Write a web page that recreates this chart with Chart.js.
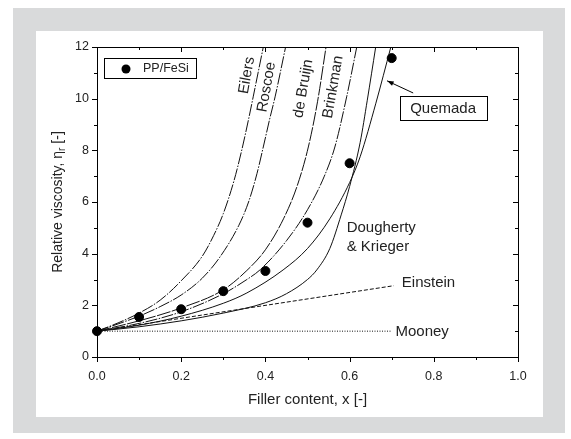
<!DOCTYPE html>
<html>
<head>
<meta charset="utf-8">
<title>Relative viscosity</title>
<script src="https://cdn.jsdelivr.net/npm/chart.js@4.4.1/dist/chart.umd.min.js"></script>
<style>
    html, body { margin: 0; padding: 0; background: #fff; }
    #wrap { position: absolute; left: 0; top: 0; width: 571px; height: 439px; }
</style>
</head>
<body>
<div id="wrap"><canvas id="chartVisc" width="571" height="439"></canvas></div>
<script>
// ============== DATA ==============

// measured points PP/FeSi
const fillerX = [0.0, 0.1, 0.2, 0.3, 0.4, 0.5, 0.6, 0.7];
const viscY   = [1.0, 1.55, 1.85, 2.55, 3.33, 5.2, 7.5, 11.57];

// model curves
const eilersX = [0, 0.05, 0.1, 0.15, 0.2, 0.25, 0.277, 0.3, 0.325, 0.343, 0.36, 0.371, 0.395];
const eilersY = [1, 1.32, 1.7, 2.2, 2.95, 3.9, 4.7, 5.55, 6.8, 7.95, 9.2, 10.07, 12];

const roscoeX = [0, 0.05, 0.1, 0.15, 0.2, 0.25, 0.292, 0.337, 0.36, 0.38, 0.395, 0.41, 0.423, 0.448];
const roscoeY = [1, 1.28, 1.58, 1.95, 2.4, 3.05, 3.87, 5.1, 6.0, 7.1, 8.13, 9.2, 10.07, 12];

const bruijnX = [0, 0.1, 0.2, 0.3, 0.356, 0.4, 0.443, 0.475, 0.502, 0.524, 0.544];
const bruijnY = [1, 1.4, 1.9, 2.6, 3.35, 4.15, 5.35, 6.6, 8.13, 9.9, 12];

const brinkX = [0, 0.1, 0.2, 0.3, 0.356, 0.387, 0.45, 0.5, 0.54, 0.565, 0.593, 0.617];
const brinkY = [1, 1.3, 1.75, 2.45, 3.0, 3.37, 4.5, 5.7, 7.0, 8.13, 10.07, 12];

const dkX = [0, 0.1, 0.2, 0.3, 0.4, 0.45, 0.5, 0.522, 0.553, 0.58, 0.6, 0.625, 0.642, 0.662];
const dkY = [1, 1.17, 1.4, 1.7, 2.1, 2.45, 3.0, 3.37, 4.2, 5.5, 6.6, 8.3, 9.94, 12];

const quemX = [0, 0.1, 0.2, 0.3, 0.356, 0.442, 0.5, 0.553, 0.6, 0.625, 0.662, 0.698];
const quemY = [1, 1.23, 1.58, 2.08, 2.48, 3.37, 4.2, 5.35, 6.75, 7.75, 9.8, 12];

const einsteinX = [0, 0.705];
const einsteinY = [1, 2.76];

const mooneyX = [0, 0.7];
const mooneyY = [1, 1];

// axis ticks
const xMajor = [0, 0.2, 0.4, 0.6, 0.8, 1.0];
const xMinor = [0.1, 0.3, 0.5, 0.7, 0.9];
const yMajor = [0, 2, 4, 6, 8, 10, 12];
const yMinor = [1, 3, 5, 7, 9, 11];

const FONT = "'Liberation Sans', Arial, sans-serif";
const INK = '#222';

function pairs(xs, ys) {
    return xs.map((x, i) => ({ x: x, y: ys[i] }));
}

function curve(label, xs, ys, dash) {
    return {
        label: label,
        data: pairs(xs, ys),
        showLine: true,
        borderColor: '#111',
        borderWidth: 1,
        borderDash: dash,
        pointRadius: 0,
        cubicInterpolationMode: 'monotone',
        fill: false
    };
}

// ============== PLUGIN: panel, frame, ticks, labels ==============

const decor = {
    id: 'decor',
    beforeDraw(chart) {
        const c = chart.ctx;
        c.save();
        c.fillStyle = '#fff';
        c.fillRect(0, 0, chart.width, chart.height);
        c.fillStyle = '#d9dadb';
        c.fillRect(13, 8, 552, 425);
        c.fillStyle = '#fff';
        c.fillRect(36, 31, 507, 386);
        c.restore();
    },
    afterDraw(chart) {
        const c = chart.ctx;
        const a = chart.chartArea;
        const sx = chart.scales.x;
        const sy = chart.scales.y;
        const px = v => sx.getPixelForValue(v);
        const py = v => sy.getPixelForValue(v);

        c.save();
        c.strokeStyle = '#000';
        c.lineWidth = 1;
        c.strokeRect(Math.round(a.left) + 0.5, Math.round(a.top) + 0.5,
            Math.round(a.right - a.left), Math.round(a.bottom - a.top));

        // tick marks: out on bottom/left, in on top/right
        c.beginPath();
        const tickX = (v, len) => {
            const x = Math.round(px(v)) + 0.5;
            c.moveTo(x, a.bottom); c.lineTo(x, a.bottom + len);
            c.moveTo(x, a.top); c.lineTo(x, a.top + len);
        };
        const tickY = (v, len) => {
            const y = Math.round(py(v)) + 0.5;
            c.moveTo(a.left, y); c.lineTo(a.left - len, y);
            c.moveTo(a.right, y); c.lineTo(a.right - len, y);
        };
        xMajor.forEach(v => tickX(v, 5));
        xMinor.forEach(v => tickX(v, 3));
        yMajor.forEach(v => tickY(v, 5));
        yMinor.forEach(v => tickY(v, 3));
        c.stroke();

        // y axis title with subscript
        c.fillStyle = INK;
        c.textBaseline = 'middle';
        c.textAlign = 'left';
        c.translate(58, (a.top + a.bottom) / 2);
        c.rotate(-Math.PI / 2);
        const t1 = 'Relative viscosity, \u03b7', t2 = 'r', t3 = ' [-]';
        c.font = '14px ' + FONT;
        const w1 = c.measureText(t1).width, w3 = c.measureText(t3).width;
        c.font = '10px ' + FONT;
        const w2 = c.measureText(t2).width;
        let x0 = -(w1 + w2 + w3) / 2;
        c.font = '14px ' + FONT;
        c.fillText(t1, x0, 0);
        c.font = '10px ' + FONT;
        c.fillText(t2, x0 + w1, 4);
        c.font = '14px ' + FONT;
        c.fillText(t3, x0 + w1 + w2, 0);
        c.setTransform(1, 0, 0, 1, 0, 0);

        // rotated curve names
        c.font = '15px ' + FONT;
        c.textAlign = 'center';
        const rot = [
            ['Eilers', 0.356, 10.9],
            ['Roscoe', 0.403, 10.45],
            ['de Bruijn', 0.490, 10.39],
            ['Brinkman', 0.561, 10.45]
        ];
        rot.forEach(r => {
            c.save();
            c.translate(px(r[1]), py(r[2]));
            c.rotate(-80 * Math.PI / 180);
            c.fillText(r[0], 0, 0);
            c.restore();
        });

        // plain curve names
        c.textAlign = 'left';
        [
            ['Dougherty', 0.593, 4.98],
            ['& Krieger', 0.593, 4.27],
            ['Einstein', 0.724, 2.88],
            ['Mooney', 0.709, 0.98]
        ].forEach(r => c.fillText(r[0], px(r[1]), py(r[2])));

        // Quemada box and arrow
        const qx = px(0.822), qy = py(9.62);
        c.strokeRect(Math.round(qx - 43.5) + 0.5, Math.round(qy - 12) + 0.5, 87, 24);
        c.textAlign = 'center';
        c.fillText('Quemada', qx, qy);
        const tx = px(0.689), ty = py(10.69), fx = px(0.751), fy = py(10.22);
        c.beginPath();
        c.moveTo(fx, fy); c.lineTo(tx, ty);
        c.stroke();
        const ang = Math.atan2(ty - fy, tx - fx);
        c.beginPath();
        c.moveTo(tx, ty);
        c.lineTo(tx - 7 * Math.cos(ang - 0.35), ty - 7 * Math.sin(ang - 0.35));
        c.lineTo(tx - 7 * Math.cos(ang + 0.35), ty - 7 * Math.sin(ang + 0.35));
        c.closePath();
        c.fillStyle = '#000';
        c.fill();

        // legend box
        c.fillStyle = INK;
        const lx = a.left + 7, ly = a.top + 11;
        c.strokeRect(lx + 0.5, ly + 0.5, 92, 20);
        c.beginPath();
        c.arc(lx + 22, ly + 11, 4.5, 0, Math.PI * 2);
        c.fillStyle = '#000';
        c.fill();
        c.fillStyle = INK;
        c.font = '12.5px ' + FONT;
        c.textAlign = 'left';
        c.fillText('PP/FeSi', lx + 39, ly + 11);
        c.restore();
    }
};

// ============== CHART ==============

function initChartVisc() {
    const ctx = document.getElementById('chartVisc').getContext('2d');

    new Chart(ctx, {
        type: 'scatter',
        data: {
            datasets: [
                {
                    label: 'PP/FeSi',
                    data: pairs(fillerX, viscY),
                    backgroundColor: '#000',
                    borderColor: '#000',
                    pointRadius: 4.5,
                    showLine: false,
                    clip: false
                },
                curve('Eilers', eilersX, eilersY, [12, 1.5, 1.5, 1.5]),
                curve('Roscoe', roscoeX, roscoeY, [12, 1.5, 1.5, 1.5]),
                curve('de Bruijn', bruijnX, bruijnY, [14, 1.5]),
                curve('Brinkman', brinkX, brinkY, [12, 1.5, 1.5, 1.5]),
                curve('Dougherty & Krieger', dkX, dkY, []),
                curve('Quemada', quemX, quemY, []),
                curve('Einstein', einsteinX, einsteinY, [4, 2]),
                curve('Mooney', mooneyX, mooneyY, [1, 1.5])
            ]
        },
        options: {
            responsive: false,
            animation: false,
            layout: { padding: { left: 0, top: 47, right: 53, bottom: 0 } },
            plugins: {
                legend: { display: false },
                tooltip: { enabled: false }
            },
            scales: {
                x: {
                    type: 'linear',
                    min: 0,
                    max: 1,
                    afterFit: s => { s.height = 82; },
                    grid: { display: false, drawTicks: false },
                    border: { display: false },
                    ticks: {
                        stepSize: 0.2,
                        padding: 12,
                        color: INK,
                        font: { family: FONT, size: 12.5 },
                        callback: v => Number(v).toFixed(1)
                    },
                    title: {
                        display: true,
                        text: 'Filler content, x [-]',
                        color: INK,
                        font: { family: FONT, size: 15 },
                        padding: { top: 4, bottom: 30 }
                    }
                },
                y: {
                    type: 'linear',
                    min: 0,
                    max: 12,
                    afterFit: s => { s.width = 97; },
                    grid: { display: false, drawTicks: false },
                    border: { display: false },
                    ticks: {
                        stepSize: 2,
                        padding: 8,
                        color: INK,
                        font: { family: FONT, size: 12.5 }
                    }
                }
            }
        },
        plugins: [decor]
    });
}

initChartVisc();
</script>
</body>
</html>
